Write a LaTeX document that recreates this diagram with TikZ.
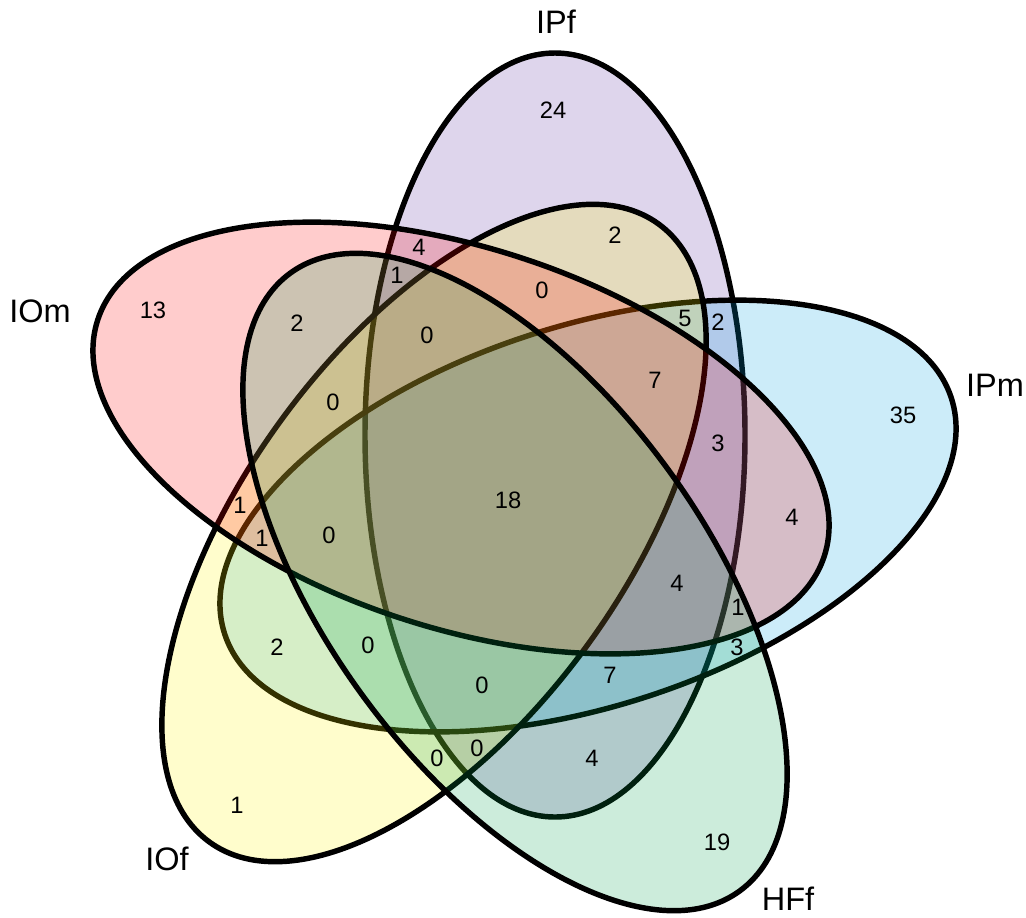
\documentclass[tikz,border=0pt]{standalone}
\usepackage{fontspec}
\setmainfont{Liberation Sans}
\definecolor{cIPf}{RGB}{90,45,160}
\definecolor{cIPm}{RGB}{0,160,225}
\definecolor{cIOf}{RGB}{255,245,0}
\definecolor{cIOm}{RGB}{255,0,0}
\definecolor{cHFf}{RGB}{0,160,75}
\begin{document}
\begin{tikzpicture}[x=0.02cm,y=-0.02cm,
  setline/.style={line width=3.1pt, draw=black, fill opacity=0.2},
  num/.style={font=\fontsize{13.5}{15}\selectfont, inner sep=0pt},
  lab/.style={font=\fontsize{18.5}{22}\selectfont, inner sep=0pt}]
\useasboundingbox (0,0) rectangle (1026,917);
% ellipses, drawn in stacking order
\draw[setline, fill=cIPf, rotate around={90:(555,435)}] (555,435) ellipse [x radius=382, y radius=190];
\draw[setline, fill=cIPm, rotate around={18:(588,516)}] (588,516) ellipse [x radius=382, y radius=190];
\draw[setline, fill=cIOf, rotate around={54:(434,533)}] (434,533) ellipse [x radius=382, y radius=190];
\draw[setline, fill=cIOm, rotate around={-18:(461,438)}] (461,438) ellipse [x radius=382, y radius=190];
\draw[setline, fill=cHFf, rotate around={-54:(515,582)}] (515,582) ellipse [x radius=382, y radius=190];
% set labels
\node[lab] (lIPf) at (556,22) {IPf};
\node[lab] (lIPm) at (995,385) {IPm};
\node[lab] (lHFf) at (788,899) {HFf};
\node[lab] (lIOf) at (167,859) {IOf};
\node[lab] (lIOm) at (40,311) {IOm};
% region counts
\node[num] (n1) at (553,110) {24};
\node[num] (n2) at (615,235) {2};
\node[num] (n3) at (419,247) {4};
\node[num] (n4) at (397,275) {1};
\node[num] (n5) at (542,290) {0};
\node[num] (n6) at (153,310) {13};
\node[num] (n7) at (297,323) {2};
\node[num] (n8) at (427,335) {0};
\node[num] (n9) at (685,318) {5};
\node[num] (n10) at (718,322) {2};
\node[num] (n11) at (655,380) {7};
\node[num] (n12) at (333,402) {0};
\node[num] (n13) at (903,415) {35};
\node[num] (n14) at (718,443) {3};
\node[num] (n15) at (508,500) {18};
\node[num] (n16) at (240,505) {1};
\node[num] (n17) at (262,538) {1};
\node[num] (n18) at (329,535) {0};
\node[num] (n19) at (792,517) {4};
\node[num] (n20) at (677,583) {4};
\node[num] (n21) at (738,607) {1};
\node[num] (n22) at (737,647) {3};
\node[num] (n23) at (277,647) {2};
\node[num] (n24) at (368,645) {0};
\node[num] (n25) at (610,675) {7};
\node[num] (n26) at (482,685) {0};
\node[num] (n27) at (477,748) {0};
\node[num] (n28) at (437,758) {0};
\node[num] (n29) at (592,758) {4};
\node[num] (n30) at (237,805) {1};
\node[num] (n31) at (717,842) {19};
\end{tikzpicture}
\end{document}
